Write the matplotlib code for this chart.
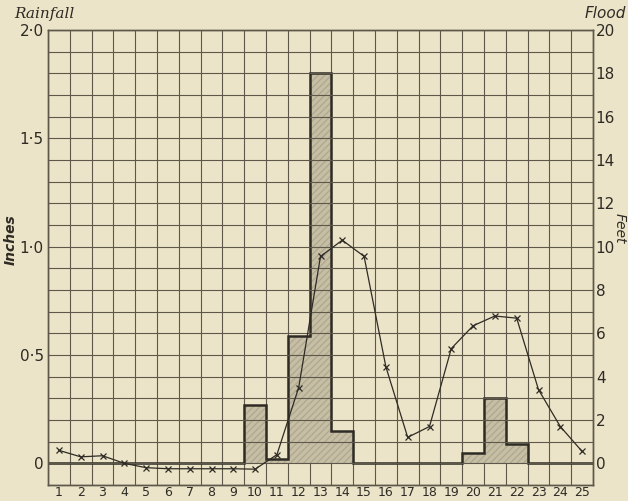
import numpy as np
import matplotlib
matplotlib.use('Agg')
import matplotlib.pyplot as plt

# days along the bottom
days = np.arange(1, 26)

# rainfall, inches (bars)
rain = [0, 0, 0, 0, 0, 0, 0, 0, 0, 0.27,
        0.02, 0.59, 1.80, 0.15, 0, 0, 0, 0, 0, 0.05,
        0.30, 0.09, 0, 0, 0]

# flood height, feet (line)
flood = [0.6, 0.3, 0.35, 0.0, -0.2, -0.25, -0.25, -0.25, -0.25, -0.27,
         0.4, 3.5, 9.55, 10.3, 9.55, 4.45, 1.2, 1.7, 5.3, 6.35,
         6.8, 6.7, 3.4, 1.7, 0.55]

left_ticks = [0, 0.5, 1.0, 1.5, 2.0]
left_labels = ['0', '0·5', '1·0', '1·5', '2·0']
right_ticks = list(range(0, 21, 2))

bg = '#ece4c8'
ink = '#2e2b25'
gridc = '#5d5849'

fig = plt.figure(figsize=(6.28, 5.01), dpi=100, facecolor=bg)
ax = fig.add_axes([48/628, 16/501, 545/628, 455/501])
ax.set_facecolor(bg)
ax2 = ax.twinx()

ax.set_xlim(0.5, 25.5)
ax.set_ylim(-0.1, 2.0)
ax2.set_ylim(-1, 20)

# grid of squares
for xv in np.arange(0.5, 26, 1):
    ax.axvline(xv, color=gridc, lw=0.8, zorder=1)
for yv in np.arange(-1, 21, 1):
    ax2.axhline(yv, color=gridc, lw=0.8, zorder=1)

# rainfall bars
ax.bar(days, rain, width=1.0, color='#c6bfa6', hatch='/////',
       edgecolor='#b0a88f', linewidth=0, zorder=2)
edges = np.arange(0.5, 26, 1)
ax.stairs(rain, edges, baseline=0, color=ink, lw=1.8, zorder=3)

# flood line
ax2.plot(days, flood, color=ink, lw=0.9, marker='x', ms=5, mew=0.9, zorder=4)
ax2.set_zorder(ax.get_zorder() + 1)
ax2.patch.set_visible(False)

# ticks
ax.set_xticks(days)
ax.set_xticklabels([str(d) for d in days], fontsize=9)
ax.set_yticks(left_ticks)
ax.set_yticklabels(left_labels, fontsize=11)
ax2.set_yticks(right_ticks)
ax2.set_yticklabels([str(t) for t in right_ticks], fontsize=11)
ax.tick_params(axis='x', length=0, pad=1, colors=ink)
ax.tick_params(axis='y', length=0, pad=3, colors=ink)
ax2.tick_params(axis='y', length=0, pad=2, colors=ink)

for a in (ax, ax2):
    for s in a.spines.values():
        s.set_color(gridc)
        s.set_linewidth(1.0)

fig.text(14/628, 1 - 14/501, 'Rainfall', fontsize=11, style='italic',
         family='DejaVu Serif', color=ink, va='center', ha='left')
fig.text(1 - 2/628, 1 - 13/501, 'Flood', fontsize=11, style='italic',
         color=ink, va='center', ha='right')
fig.text(11/628, 1 - 240/501, 'Inches', fontsize=10, style='italic',
         weight='bold', color=ink, rotation=90, va='center', ha='center')
fig.text(620/628, 1 - 228/501, 'Feet', fontsize=10, style='italic',
         color=ink, rotation=-90, va='center', ha='center')

plt.savefig('out.png', dpi=100, facecolor=bg)
